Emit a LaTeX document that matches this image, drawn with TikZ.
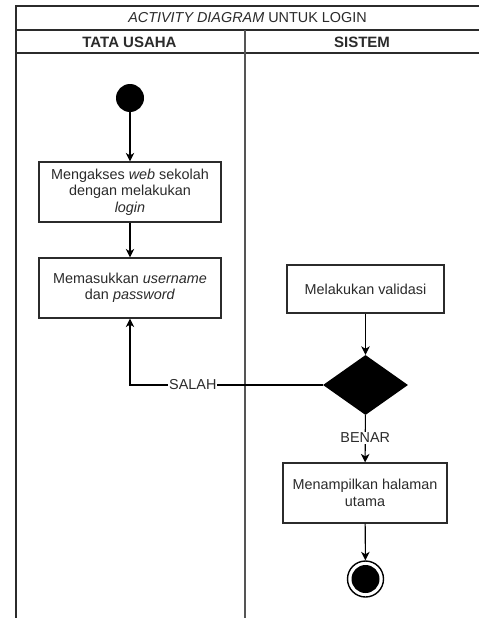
\documentclass[tikz,border=0pt]{standalone}
\usepackage{fontspec}
\setmainfont{Liberation Sans}
\usetikzlibrary{arrows.meta,shapes.geometric}
\definecolor{ink}{HTML}{2B2B2B}
\definecolor{lane}{HTML}{555555}
\begin{document}
\begin{tikzpicture}[x=1pt,y=-1pt,
  txt/.style={font=\fontsize{14.4}{16.5}\selectfont, text=ink},
  head/.style={txt, font=\fontsize{15}{17}\selectfont\bfseries},
  actbox/.style={txt, draw=ink, line width=1.2pt, fill=white, align=center, inner sep=2pt},
  flow/.style={draw=black, line width=1.1pt, -{Stealth[length=8.5pt,width=8.5pt,inset=2.5pt]}},
  lbl/.style={txt, fill=white, inner sep=1pt},
  frame/.style={draw=ink, line width=1.4pt}]
\useasboundingbox (0,0) rectangle (479,618);
\fill[white] (0,0) rectangle (479,618);

% pool frame, title row and lane headers
\draw[frame] (16,618) -- (16,6) -- (479,6);
\draw[frame] (16,30) -- (479,30);
\draw[frame] (16,53) -- (479,53);
\draw[draw=lane, line width=2pt] (245,30) -- (245,618);
\node[txt] (title) at (247.5,18) {\textit{ACTIVITY DIAGRAM} UNTUK LOGIN};
\node[head] (laneA) at (129.5,42) {TATA USAHA};
\node[head] (laneB) at (362,42) {SISTEM};

% activities
\node[circle, fill=black, minimum size=28pt, inner sep=0] (start) at (130,98) {};
\node[actbox, minimum width=182pt, minimum height=60pt] (akses) at (130,192)
  {Mengakses \textit{web} sekolah\\dengan melakukan\\\textit{login}};
\node[actbox, minimum width=182pt, minimum height=60pt] (input) at (130,288)
  {Memasukkan \textit{username}\\dan \textit{password}};
\node[actbox, minimum width=157pt, minimum height=48pt] (valid) at (365.5,289)
  {Melakukan validasi};
\node[diamond, fill=black, minimum width=85pt, minimum height=60pt, inner sep=0] (cek) at (365.5,385) {};
\node[actbox, minimum width=164pt, minimum height=60pt] (utama) at (365,493)
  {Menampilkan halaman\\utama};
\node[circle, draw=black, fill=white, line width=1.4pt, minimum size=36pt, inner sep=0] (akhir) at (365.5,579) {};
\node[circle, fill=black, minimum size=28pt, inner sep=0] (akhirdot) at (akhir) {};

% control flow
\draw[flow] (start) -- (akses);
\draw[flow] (akses) -- (input);
\draw[flow] (valid) -- (cek);
\draw[flow] (cek.west) -| node[lbl, pos=0.337] (salah) {SALAH} (input.south);
\draw[flow] (cek) -- node[lbl, pos=0.48] (benar) {BENAR} (utama);
\draw[flow] (utama) -- (akhir);
\end{tikzpicture}
\end{document}
